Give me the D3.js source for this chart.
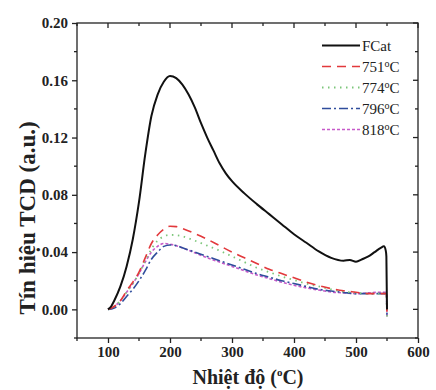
<meta charset="utf-8">
<script src="https://d3js.org/d3.v7.min.js"></script>
<style>
  body { margin: 0; background: #fff; }
  text { font-family: "Liberation Serif", "DejaVu Serif", serif; }
</style>
<div id="my_dataviz"></div>

<script>
  const width = 436
  const height = 390
  const margin = {top: 23, right: 18, bottom: 52, left: 77}

  // data
  const fcatTemp = [100,105,110,120,130,140,150,160,170,180,190,200,210,220,230,240,250,260,270,280,290,300,320,340,360,380,400,420,440,460,480,490,500,510,520,530,540,545,548,549,550]
  const fcatVal  = [0,.002,.006,.016,.030,.049,.075,.108,.135,.150,.159,.163,.1615,.157,.150,.141,.130,.120,.111,.102,.095,.0895,.081,.0735,.0665,.0595,.0525,.0465,.0405,.036,.034,.0345,.0333,.035,.037,.040,.043,.044,.041,.037,0]

  const tempC = [100,110,120,130,140,150,160,170,180,190,200,210,220,240,260,280,300,320,340,360,380,400,420,440,460,480,500,520,540,549,550]
  const v751 = [0,.002,.006,.013,.019,.026,.036,.046,.052,.056,.058,.0578,.0565,.053,.049,.0445,.040,.036,.032,.028,.025,.022,.019,.0165,.0145,.013,.012,.011,.011,.011,-.005]
  const v774 = [0,.002,.006,.012,.018,.025,.034,.042,.048,.051,.052,.0518,.051,.048,.0445,.041,.037,.033,.029,.026,.023,.0205,.018,.016,.014,.0125,.0115,.011,.011,.011,-.005]
  const v796 = [0,.001,.004,.009,.014,.020,.027,.035,.040,.044,.045,.0445,.043,.040,.037,.034,.031,.028,.025,.0225,.020,.018,.016,.014,.0128,.0118,.011,.011,.011,.011,-.005]
  const v818 = [0,.002,.006,.012,.018,.025,.033,.040,.044,.046,.0455,.0445,.043,.0395,.036,.033,.030,.027,.024,.0215,.019,.0168,.015,.0135,.0122,.0115,.011,.0115,.012,.012,-.005]

  const seriesNames = ["FCat", "751", "774", "796", "818"]
  const xTicks = [100,200,300,400,500,600]
  const yTicks = [0,0.04,0.08,0.12,0.16,0.20]

  const series = [
    {name: seriesNames[0], t: fcatTemp, v: fcatVal, color: "#111", dash: null, w: 2},
    {name: seriesNames[1], t: tempC, v: v751, color: "#e2393c", dash: "9,6", w: 1.6},
    {name: seriesNames[2], t: tempC, v: v774, color: "#7cc67a", dash: "1.5,4.5", w: 1.8},
    {name: seriesNames[3], t: tempC, v: v796, color: "#2f4d9c", dash: "9,3,2,3", w: 1.6},
    {name: seriesNames[4], t: tempC, v: v818, color: "#c65ac9", dash: "3,2", w: 1.6}
  ]

  var svg = d3.select("#my_dataviz")
    .append("svg")
    .attr("width", width)
    .attr("height", height)

  const x = d3.scaleLinear().domain([50, 600]).range([margin.left, width - margin.right])
  const y = d3.scaleLinear().domain([-0.02, 0.20]).range([height - margin.bottom, margin.top])

  const x0 = margin.left, x1 = width - margin.right
  const y0 = height - margin.bottom, y1 = margin.top

  // frame
  svg.append("rect")
    .attr("x", x0).attr("y", y1)
    .attr("width", x1 - x0).attr("height", y0 - y1)
    .attr("fill", "none").attr("stroke", "#222").attr("stroke-width", 1.3)

  const xMinor = d3.range(50, 601, 50)
  const yMinor = d3.range(-0.02, 0.201, 0.02)

  // bottom axis
  const xb = svg.append("g").attr("transform", "translate(0," + y0 + ")")
    .call(d3.axisBottom(x).tickValues(xTicks).tickFormat(d3.format("d")).tickSize(5).tickPadding(3))
  xb.select(".domain").remove()
  xb.selectAll("text").style("font-size", "15px").style("font-weight", "bold").attr("fill", "#222")
  xb.selectAll("line").attr("stroke", "#222").attr("stroke-width", 1.3)
  svg.append("g").selectAll("line").data(xMinor.filter(d => d % 100 != 0)).join("line")
    .attr("x1", d => x(d)).attr("x2", d => x(d)).attr("y1", y0).attr("y2", y0 + 3)
    .attr("stroke", "#222").attr("stroke-width", 1.3)

  // left axis
  const yl = svg.append("g").attr("transform", "translate(" + x0 + ",0)")
    .call(d3.axisLeft(y).tickValues(yTicks).tickFormat(d3.format(".2f")).tickSize(5).tickPadding(4))
  yl.select(".domain").remove()
  yl.selectAll("text").style("font-size", "15px").style("font-weight", "bold").attr("fill", "#222")
  yl.selectAll("line").attr("stroke", "#222").attr("stroke-width", 1.3)
  svg.append("g").selectAll("line").data(yMinor.filter((d, i) => i % 2 == 0)).join("line")
    .attr("x1", x0 - 3).attr("x2", x0).attr("y1", d => y(d)).attr("y2", d => y(d))
    .attr("stroke", "#222").attr("stroke-width", 1.3)

  // top and right mirrored ticks (inward)
  svg.append("g").selectAll("line").data(xMinor).join("line")
    .attr("x1", d => x(d)).attr("x2", d => x(d)).attr("y1", y1).attr("y2", d => y1 + (d % 100 == 0 ? 5 : 3))
    .attr("stroke", "#222").attr("stroke-width", 1.3)
  svg.append("g").selectAll("line").data(yMinor).join("line")
    .attr("x1", (d, i) => x1 - (i % 2 == 1 ? 5 : 3)).attr("x2", x1).attr("y1", d => y(d)).attr("y2", d => y(d))
    .attr("stroke", "#222").attr("stroke-width", 1.3)

  // lines
  const line = d3.line()
    .x(d => x(d[0]))
    .y(d => y(d[1]))
    .curve(d3.curveMonotoneX)

  svg.append("g").selectAll("path")
    .data(series.slice().reverse())
    .join("path")
    .attr("d", s => line(s.t.map((t, i) => [t, s.v[i]])))
    .attr("fill", "none")
    .attr("stroke", s => s.color)
    .attr("stroke-width", s => s.w)
    .attr("stroke-dasharray", s => s.dash)

  // legend
  const leg = svg.append("g").selectAll("g").data(series).join("g")
    .attr("transform", (d, i) => "translate(322," + (45.5 + i * 21) + ")")
  leg.append("line")
    .attr("x1", 0).attr("x2", 38)
    .attr("stroke", d => d.color)
    .attr("stroke-width", d => d.w)
    .attr("stroke-dasharray", d => d.dash)
  const lt = leg.append("text").attr("x", 40).attr("y", 5)
    .style("font-size", "15px").attr("fill", "#222")
  lt.append("tspan").text(d => d.name)
  lt.filter((d, i) => i > 0).append("tspan").attr("dy", -5).style("font-size", "10px").text("o")
  lt.filter((d, i) => i > 0).append("tspan").attr("dy", 5).text("C")

  // axis titles
  const xt = svg.append("text")
    .attr("x", 248).attr("y", 384)
    .attr("text-anchor", "middle")
    .style("font-size", "20px").style("font-weight", "bold").attr("fill", "#222")
  xt.append("tspan").text("Nhiệt độ (")
  xt.append("tspan").attr("dy", -8).style("font-size", "11px").text("o")
  xt.append("tspan").attr("dy", 8).text("C)")

  svg.append("text")
    .attr("transform", "translate(35,218) rotate(-90)")
    .attr("text-anchor", "middle")
    .style("font-size", "23px").style("font-weight", "bold").attr("fill", "#222")
    .text("Tín hiệu TCD (a.u.)")
</script>
